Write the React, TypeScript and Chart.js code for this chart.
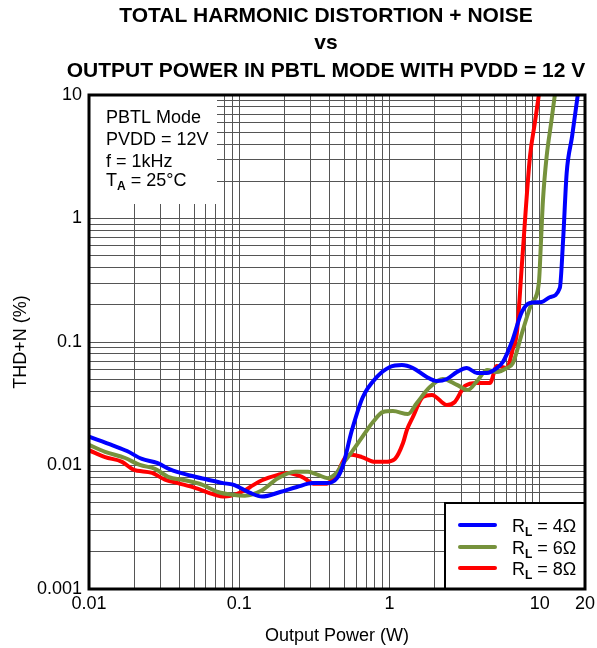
import { useEffect, useRef } from 'react';
import { Chart, registerables } from 'chart.js';

Chart.register(...registerables);

// ---------- data ----------
const titleLines = [
  'TOTAL HARMONIC DISTORTION + NOISE',
  'vs',
  'OUTPUT POWER IN PBTL MODE WITH PVDD = 12 V',
];
const xAxisTitle = 'Output Power (W)';
const yAxisTitle = 'THD+N (%)';
const infoLines = ['PBTL Mode', 'PVDD = 12V', 'f = 1kHz'];
const seriesLoads = ['4Ω', '6Ω', '8Ω'];
const seriesColors = ['#0000FF', '#76923C', '#FF0000'];

const power4 = [0.01, 0.0145, 0.0179, 0.0225, 0.0284, 0.0346, 0.047, 0.061, 0.078, 0.091, 0.101, 0.118, 0.142, 0.187, 0.242, 0.309, 0.383, 0.447, 0.49, 0.56, 0.665, 0.824, 1.006, 1.21, 1.43, 1.77, 2.07, 2.41, 2.81, 3.27, 3.82, 4.45, 5.18, 5.68, 6.52, 7.6, 8.6, 10.3, 11.7, 13.6, 14.3, 15.1, 16.4, 17.9];
const thd4 = [0.0171, 0.0145, 0.0131, 0.0113, 0.0105, 0.0093, 0.0083, 0.0077, 0.0072, 0.0070, 0.0066, 0.0060, 0.0056, 0.0061, 0.0067, 0.0072, 0.0072, 0.0079, 0.0100, 0.0190, 0.0359, 0.0521, 0.0628, 0.0652, 0.0616, 0.0521, 0.0483, 0.0502, 0.0572, 0.0616, 0.0561, 0.0561, 0.0616, 0.0689, 0.100, 0.175, 0.207, 0.211, 0.231, 0.274, 0.67, 2.33, 4.6, 10];

const power6 = [0.01, 0.0128, 0.0174, 0.0218, 0.0275, 0.0336, 0.0435, 0.0565, 0.0722, 0.0894, 0.109, 0.142, 0.181, 0.235, 0.287, 0.334, 0.389, 0.447, 0.482, 0.562, 0.686, 0.776, 0.904, 1.053, 1.326, 1.52, 1.857, 2.265, 2.81, 3.32, 3.87, 4.45, 5.18, 6.04, 6.62, 7.72, 8.86, 9.86, 10.2, 10.5, 11.1, 11.9, 12.6];
const thd6 = [0.0147, 0.0129, 0.0115, 0.0101, 0.0094, 0.0081, 0.0076, 0.0070, 0.0061, 0.0058, 0.0057, 0.0063, 0.0079, 0.0089, 0.0089, 0.0084, 0.0079, 0.0088, 0.0101, 0.0129, 0.0183, 0.0225, 0.0271, 0.0276, 0.0261, 0.0321, 0.0432, 0.0502, 0.0449, 0.0409, 0.0492, 0.0593, 0.0572, 0.0616, 0.0676, 0.125, 0.207, 0.30, 0.67, 1.4, 3.15, 5.93, 10];

const power8 = [0.01, 0.0128, 0.0166, 0.0196, 0.0263, 0.032, 0.0391, 0.0507, 0.0658, 0.0803, 0.0936, 0.109, 0.123, 0.1416, 0.181, 0.211, 0.261, 0.319, 0.372, 0.414, 0.454, 0.505, 0.562, 0.655, 0.80, 0.932, 1.086, 1.23, 1.305, 1.431, 1.67, 1.914, 2.41, 2.72, 3.18, 3.82, 4.66, 5.18, 6.04, 6.62, 7.04, 7.6, 8.6, 9.27, 9.86];
const thd8 = [0.0133, 0.0117, 0.0107, 0.0093, 0.0087, 0.0077, 0.0072, 0.0066, 0.0059, 0.0056, 0.0058, 0.0063, 0.0069, 0.0076, 0.0084, 0.0087, 0.0081, 0.0071, 0.0071, 0.0076, 0.0089, 0.0115, 0.0122, 0.0117, 0.0107, 0.0107, 0.0113, 0.0152, 0.0194, 0.0247, 0.0359, 0.0373, 0.0309, 0.0327, 0.0441, 0.0466, 0.0466, 0.064, 0.0616, 0.088, 0.118, 0.42, 3.15, 5.93, 10];

const xGrid = [0.01, 0.02, 0.03, 0.04, 0.05, 0.06, 0.07, 0.08, 0.09, 0.1, 0.2, 0.3, 0.4, 0.5, 0.6, 0.7, 0.8, 0.9, 1, 2, 3, 4, 5, 6, 7, 8, 9, 10, 20];
const xLabels = [0.01, 0.1, 1, 10, 20];
const yGrid = [0.001, 0.002, 0.003, 0.004, 0.005, 0.006, 0.007, 0.008, 0.009, 0.01, 0.02, 0.03, 0.04, 0.05, 0.06, 0.07, 0.08, 0.09, 0.1, 0.2, 0.3, 0.4, 0.5, 0.6, 0.7, 0.8, 0.9, 1, 2, 3, 4, 5, 6, 7, 8, 9, 10];
const yLabels = [0.001, 0.01, 0.1, 1, 10];

const FONT = '"Liberation Sans", Arial, sans-serif';

function toPoints(xs: number[], ys: number[]) {
  return xs.map((x, i) => ({ x, y: ys[i] }));
}

type Part = { t: string; font: string; dy?: number };
function drawRich(ctx: CanvasRenderingContext2D, x: number, y: number, parts: Part[]) {
  let cx = x;
  for (const p of parts) {
    ctx.font = p.font;
    ctx.fillText(p.t, cx, y + (p.dy || 0));
    cx += ctx.measureText(p.t).width;
  }
}

export default function App() {
  const ref = useRef<HTMLCanvasElement>(null);

  useEffect(() => {
    if (!ref.current) return;
    const normal = `18px ${FONT}`;
    const subBold = `bold 12px ${FONT}`;

    const decor = {
      id: 'decor',
      beforeDatasetsDraw(chart: any) {
        const ctx = chart.ctx as CanvasRenderingContext2D;
        const a = chart.chartArea;
        ctx.save();
        // info box (white, hides grid)
        ctx.fillStyle = '#fff';
        ctx.fillRect(a.left, a.top, 128, 109);
        ctx.fillStyle = '#000';
        ctx.textAlign = 'left';
        ctx.textBaseline = 'alphabetic';
        ctx.font = normal;
        const baselines = [123, 145, 166.5];
        infoLines.forEach((s, i) => ctx.fillText(s, 106, baselines[i]));
        drawRich(ctx, 106, 186, [
          { t: 'T', font: normal },
          { t: 'A', font: subBold, dy: 4 },
          { t: ' = 25°C', font: normal },
        ]);
        ctx.restore();
      },
      afterDatasetsDraw(chart: any) {
        const ctx = chart.ctx as CanvasRenderingContext2D;
        const a = chart.chartArea;
        ctx.save();
        // legend box
        const lx = 445, ly = 503;
        ctx.fillStyle = '#fff';
        ctx.fillRect(lx, ly, a.right - lx, a.bottom - ly);
        ctx.strokeStyle = '#000';
        ctx.lineWidth = 2;
        ctx.strokeRect(lx, ly, a.right - lx, a.bottom - ly);
        const rows = [525, 547, 568];
        seriesLoads.forEach((ld, i) => {
          ctx.strokeStyle = seriesColors[i];
          ctx.lineWidth = 4;
          ctx.lineCap = 'round';
          ctx.beginPath();
          ctx.moveTo(460, rows[i]);
          ctx.lineTo(495, rows[i]);
          ctx.stroke();
          ctx.fillStyle = '#000';
          ctx.textAlign = 'left';
          ctx.textBaseline = 'alphabetic';
          drawRich(ctx, 512, rows[i] + 6.5, [
            { t: 'R', font: normal },
            { t: 'L', font: subBold, dy: 4 },
            { t: ' = ' + ld, font: normal },
          ]);
        });
        // frame
        ctx.strokeStyle = '#000';
        ctx.lineWidth = 3;
        ctx.lineCap = 'butt';
        ctx.strokeRect(a.left, a.top, a.right - a.left, a.bottom - a.top);
        ctx.restore();
      },
      afterDraw(chart: any) {
        const ctx = chart.ctx as CanvasRenderingContext2D;
        const a = chart.chartArea;
        ctx.save();
        ctx.fillStyle = '#000';
        ctx.textAlign = 'center';
        ctx.textBaseline = 'alphabetic';
        ctx.font = `bold 21px ${FONT}`;
        const tb = [22, 49, 77];
        titleLines.forEach((s, i) => ctx.fillText(s, 326, tb[i]));
        ctx.font = normal;
        ctx.textBaseline = 'middle';
        ctx.fillText(xAxisTitle, (a.left + a.right) / 2, 636);
        ctx.translate(21, (a.top + a.bottom) / 2);
        ctx.rotate(-Math.PI / 2);
        ctx.fillText(yAxisTitle, 0, 0);
        ctx.restore();
      },
    };

    const chart = new Chart(ref.current, {
      type: 'line',
      data: {
        datasets: [
          { label: 'RL = 4Ω', data: toPoints(power4, thd4), borderColor: seriesColors[0] },
          { label: 'RL = 6Ω', data: toPoints(power6, thd6), borderColor: seriesColors[1] },
          { label: 'RL = 8Ω', data: toPoints(power8, thd8), borderColor: seriesColors[2] },
        ].map((d) => ({
          ...d,
          borderWidth: 4,
          pointRadius: 0,
          fill: false,
          cubicInterpolationMode: 'monotone' as const,
          borderJoinStyle: 'round' as const,
          borderCapStyle: 'round' as const,
        })),
      },
      options: {
        animation: false,
        responsive: false,
        devicePixelRatio: 1,
        layout: { padding: { top: 95, right: 12, left: 0, bottom: 0 } },
        plugins: {
          legend: { display: false },
          title: { display: false },
          tooltip: { enabled: false },
        },
        scales: {
          x: {
            type: 'logarithmic',
            min: 0.01,
            max: 20,
            afterBuildTicks: (s: any) => {
              s.ticks = xGrid.map((v) => ({ value: v }));
            },
            afterFit: (s: any) => {
              s.height = 59;
              s.paddingLeft = 0;
              s.paddingRight = 0;
            },
            ticks: {
              autoSkip: false,
              maxRotation: 0,
              padding: 4,
              color: '#000',
              font: { family: FONT, size: 18 },
              callback: (v: any) => (xLabels.includes(Number(v)) ? String(v) : ''),
            },
            grid: { color: '#555', lineWidth: 1, drawTicks: false },
            border: { display: false },
          },
          y: {
            type: 'logarithmic',
            min: 0.001,
            max: 10,
            afterBuildTicks: (s: any) => {
              s.ticks = yGrid.map((v) => ({ value: v }));
            },
            afterFit: (s: any) => {
              s.width = 89;
              s.paddingTop = 0;
              s.paddingBottom = 0;
            },
            ticks: {
              autoSkip: false,
              padding: 7,
              color: '#000',
              font: { family: FONT, size: 18 },
              callback: (v: any) => (yLabels.includes(Number(v)) ? String(v) : ''),
            },
            grid: { color: '#555', lineWidth: 1, drawTicks: false },
            border: { display: false },
          },
        },
      },
      plugins: [decor],
    } as any);

    return () => chart.destroy();
  }, []);

  return (
    <div style={{ position: 'absolute', left: 0, top: 0, width: 597, height: 648, background: '#fff' }}>
      <canvas ref={ref} width={597} height={648} style={{ display: 'block' }} />
    </div>
  );
}
